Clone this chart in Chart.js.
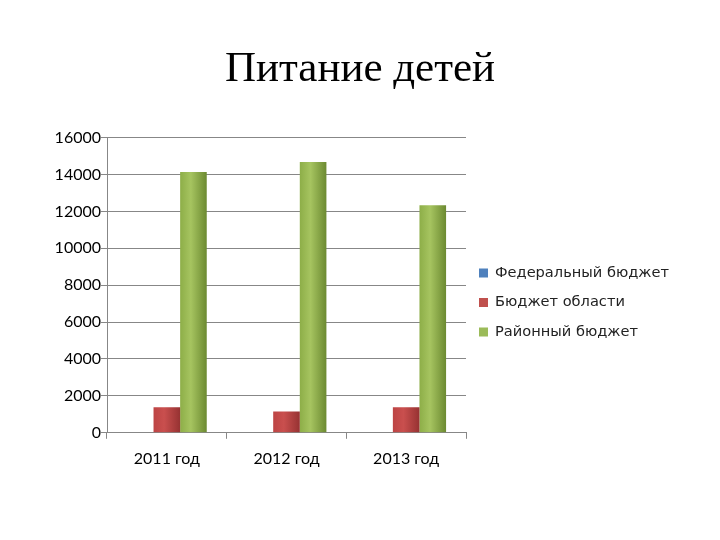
<!DOCTYPE html>
<html>
<head>
<meta charset="utf-8">
<script src="https://cdn.jsdelivr.net/npm/chart.js@4"></script>
<style>
  html, body { margin: 0; padding: 0; background: #fff; }
  #chart { display: block; }
</style>
</head>
<body>
<canvas id="chart" width="720" height="540"></canvas>
<script>
'use strict';

const years = ['2011 год', '2012 год', '2013 год'];
const seriesNames = ['Федеральный бюджет', 'Бюджет области', 'Районный бюджет'];
const federal = [0, 0, 0];
const regional = [1390, 1160, 1390];
const district = [14130, 14680, 12330];
const yTicks = [0, 2000, 4000, 6000, 8000, 10000, 12000, 14000, 16000];

// flat colour + the three stops of the cylinder-like shading
const shades = [
  { base: '#4F81BD', stops: ['#4675AE', '#5B8CC8', '#36608F'] },
  { base: '#C0504D', stops: ['#BD4444', '#C94F4E', '#963232'] },
  { base: '#9BBB59', stops: ['#8DAE48', '#A6C460', '#6C8A31'] }
];

function barFill(idx) {
  return function(ctx) {
    const el = ctx.element;
    const shade = shades[idx];
    if (!el || !isFinite(el.x) || !el.width) return shade.base;
    const left = el.x - el.width / 2;
    const g = ctx.chart.ctx.createLinearGradient(left, 0, left + el.width, 0);
    g.addColorStop(0, shade.stops[0]);
    g.addColorStop(0.4, shade.stops[1]);
    g.addColorStop(1, shade.stops[2]);
    return g;
  };
}

// built-in legend caps its width, so the right-hand key is drawn here
const sideLegend = {
  id: 'sideLegend',
  afterDraw(chart) {
    const c = chart.ctx;
    const x = chart.chartArea.right + 13;
    const y0 = 273, step = 29.5;
    c.save();
    c.font = '14.6px "DejaVu Sans"';
    c.textBaseline = 'middle';
    c.textAlign = 'left';
    chart.data.datasets.forEach((ds, i) => {
      const y = y0 + i * step;
      c.fillStyle = shades[i].base;
      c.fillRect(x, y - 4.5, 9, 9);
      c.fillStyle = '#222';
      c.fillText(ds.label, x + 16, y);
    });
    c.restore();
  }
};

const seriesData = [federal, regional, district];

const chart = new Chart(document.getElementById('chart'), {
  type: 'bar',
  data: {
    labels: years,
    datasets: seriesData.map((d, i) => ({
      label: seriesNames[i],
      data: d,
      backgroundColor: barFill(i),
      borderWidth: 0,
      categoryPercentage: 0.667,
      barPercentage: 1.0
    }))
  },
  plugins: [sideLegend],
  options: {
    responsive: false,
    animation: false,
    devicePixelRatio: 1,
    layout: { padding: { left: 0, right: 0, top: 0, bottom: 62 } },
    plugins: {
      title: {
        display: true,
        text: 'Питание детей',
        color: '#000',
        font: { family: 'Liberation Serif', size: 43, weight: 'normal' },
        padding: { top: 44, bottom: 42 }
      },
      legend: { display: false },
      tooltip: { enabled: false }
    },
    scales: {
      x: {
        grid: {
          offset: true,
          drawOnChartArea: false,
          drawTicks: true,
          tickLength: 6,
          color: '#878787'
        },
        border: { color: '#878787', width: 1 },
        ticks: {
          color: '#000',
          padding: 10,
          maxRotation: 0,
          font: { family: 'Lato', size: 16 }
        }
      },
      y: {
        min: 0,
        max: 16000,
        afterBuildTicks: function(axis) {
          axis.ticks = yTicks.map(v => ({ value: v }));
        },
        afterFit: function(axis) { axis.width = 107; },
        grid: {
          color: '#878787',
          tickLength: 6,
          drawTicks: true
        },
        border: { color: '#878787', width: 1 },
        ticks: {
          color: '#000',
          padding: 0,
          callback: v => String(v),
          font: { family: 'Lato', size: 16 }
        }
      },
      // empty right-hand box that keeps room for the key
      side: {
        type: 'linear',
        position: 'right',
        afterFit: function(axis) { axis.width = 254; },
        grid: { display: false, drawTicks: false },
        border: { display: false },
        ticks: { display: false }
      }
    }
  }
});

// second pass so the gradients know where each bar sits
chart.update('none');
</script>
</body>
</html>
